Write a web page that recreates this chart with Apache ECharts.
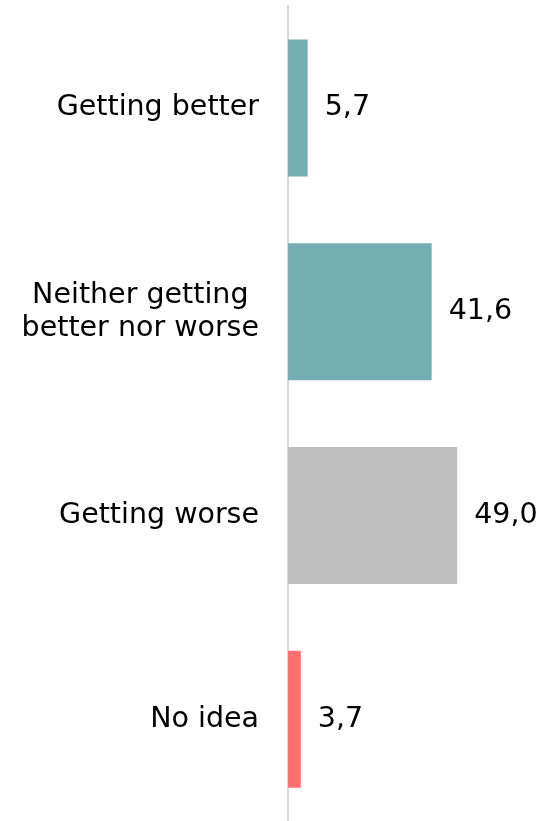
<!DOCTYPE html>
<html><head><meta charset="utf-8">
<script src="https://cdn.jsdelivr.net/npm/echarts@6/dist/echarts.min.js"></script>
<style>html,body{margin:0;padding:0;background:#fff}#c{width:547px;height:821px}</style>
</head><body><div id="c"></div>
<script>
const categories = ["Getting better", "Neither getting\nbetter nor worse", "Getting worse", "No idea"];
const values = [5.7, 41.6, 49.0, 3.7];
const colors = ["#74AEB2", "#74AEB2", "#BFBFBF", "#FF6F6F"];

const chart = echarts.init(document.getElementById('c'));
chart.setOption({
  animation: false,
  grid: {left: 288, right: 0, top: 6, height: 819, containLabel: false},
  xAxis: {type: 'value', min: 0, max: 75, show: false},
  yAxis: {
    type: 'category', data: categories, inverse: true,
    axisLine: {show: true, lineStyle: {color: '#D9D9D9', width: 2}},
    axisTick: {show: false},
    axisLabel: {
      color: '#000', fontFamily: 'DejaVu Sans', fontSize: 28.5, margin: 29, lineHeight: 33, align: 'right',
      formatter: v => v.split('\n').map(s => '{c|' + s + '}').join('\n'),
      rich: {c: {align: 'center', fontFamily: 'DejaVu Sans', fontSize: 28.5, lineHeight: 33, color: '#000'}}
    }
  },
  series: [{
    type: 'bar',
    barWidth: 137,
    data: values.map((v, i) => ({value: v, itemStyle: {color: colors[i]}})),
    label: {
      show: true, position: 'right', distance: 17,
      color: '#000', fontFamily: 'DejaVu Sans', fontSize: 28.5,
      formatter: p => p.value.toFixed(1).replace('.', ',')
    }
  }]
});
</script></body></html>
